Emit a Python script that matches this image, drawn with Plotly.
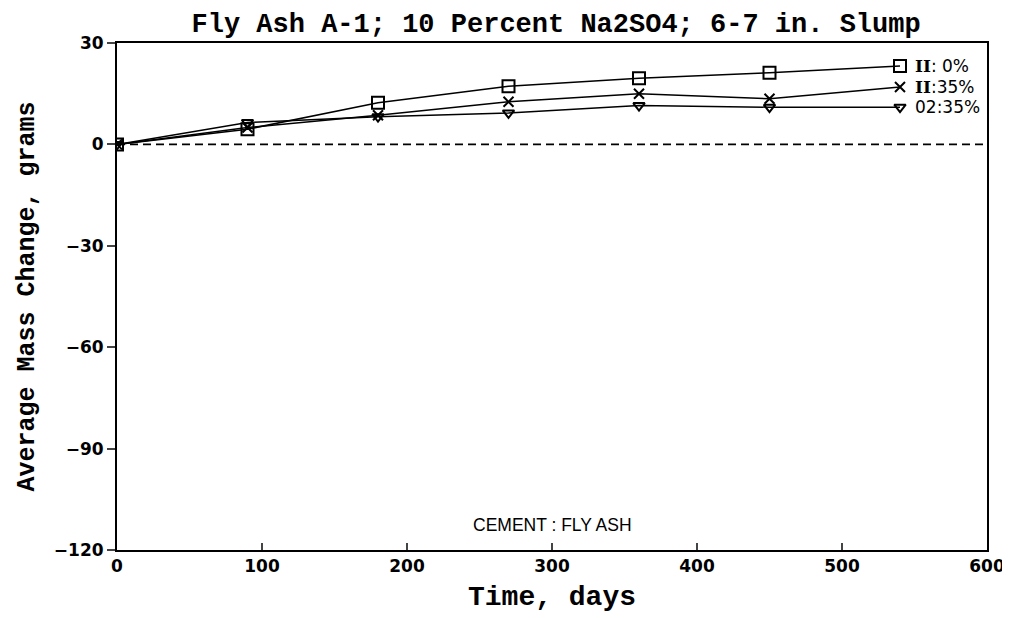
import plotly.graph_objects as go

days = [0, 90, 180, 270, 360, 450, 540]
ii_0 = [0, 4.5, 12.3, 17.2, 19.6, 21.2, 23.2]
ii_35 = [0, 5.0, 8.6, 12.6, 15.0, 13.5, 17.0]
o2_35 = [0, 6.5, 8.2, 9.3, 11.5, 11.0, 11.0]
series_names = ["II:0%", "II:35%", "02:35%"]
label_html = ["<span style='font-family:DejaVu Serif'><b>II</b></span>: 0%",
              "<span style='font-family:DejaVu Serif'><b>II</b></span>:35%",
              "02:35%"]
x_ticks = [0, 100, 200, 300, 400, 500, 600]
y_ticks = [-120, -90, -60, -30, 0, 30]

fig = go.Figure()
markers = [
    dict(symbol="square-open", size=12),
    dict(symbol="x-thin-open", size=10),
    dict(symbol="triangle-down-open", size=10),
]
for name, lab, vals, mk in zip(series_names, label_html, [ii_0, ii_35, o2_35], markers):
    m = dict(color="black", line=dict(width=2, color="black"), **mk)
    fig.add_trace(go.Scatter(x=days, y=vals, mode="lines+markers", name=name,
                             line=dict(color="black", width=1.5), marker=m,
                             showlegend=False))
    fig.add_annotation(x=days[-1], y=vals[-1], text=lab, xref="x", yref="y",
                       xanchor="left", yanchor="middle", xshift=13, showarrow=False,
                       font=dict(family="DejaVu Sans", size=17, color="black"))

fig.add_shape(type="line", x0=0, x1=600, y0=0, y1=0, xref="x", yref="y",
              line=dict(color="black", width=1.8, dash="8px,5px"))

fig.add_annotation(x=0.5, y=0.049, xref="paper", yref="paper", text="CEMENT : FLY ASH",
                   yanchor="middle", showarrow=False,
                   font=dict(family="Liberation Sans", size=17.5, color="black"))

fig.update_layout(
    width=1002, height=610,
    margin=dict(l=109, r=23, t=35, b=68, autoexpand=False),
    paper_bgcolor="white", plot_bgcolor="white",
    title=dict(text="<b>Fly Ash A-1; 10 Percent Na2SO4; 6-7 in. Slump</b>", x=0.547, xanchor="center",
               y=0.992, yanchor="top", yref="container", pad=dict(t=0, b=0),
               font=dict(family="Liberation Mono", size=27, color="black")),
    font=dict(color="black"),
)
fig.update_xaxes(range=[0, 600], tickvals=x_ticks, ticks="inside", ticklen=7, tickwidth=1.5,
                 showline=True, linecolor="black", linewidth=2, mirror=True, showgrid=False,
                 zeroline=False, automargin=False,
                 tickfont=dict(family="DejaVu Sans", size=17, color="black", weight="bold"),
                 title=dict(text="<b>Time, days</b>", standoff=10,
                            font=dict(family="Liberation Mono", size=28, color="black")))
fig.update_yaxes(range=[-120, 30], tickvals=y_ticks, ticks="outside", ticklen=8, tickwidth=1.5,
                 showline=True, linecolor="black", linewidth=2, mirror=True, showgrid=False,
                 zeroline=False, automargin=False,
                 tickfont=dict(family="DejaVu Sans", size=17, color="black", weight="bold"),
                 title=dict(text="<b>Average Mass Change, grams</b>", standoff=12,
                            font=dict(family="Liberation Mono", size=25, color="black")))

fig.write_html("out.html")
